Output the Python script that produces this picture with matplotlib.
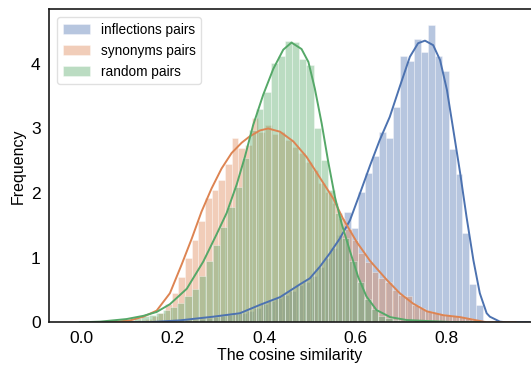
import numpy as np
import matplotlib
matplotlib.use("Agg")
import matplotlib.pyplot as plt

labels = ["inflections pairs", "synonyms pairs", "random pairs"]
colors = ["#4C72B0", "#DD8452", "#55A868"]

# histogram bins (start of first bin, bin width) and bar heights
infl_start, infl_width = 0.1197, 0.0152
infl_hist = [0.003, 0.0, 0.005, 0.01, 0.01, 0.02, 0.02, 0.03, 0.04, 0.05,
             0.06, 0.08, 0.09, 0.11, 0.13, 0.15, 0.18, 0.22, 0.28, 0.33,
             0.37, 0.42, 0.48, 0.58, 0.62, 0.72, 0.85, 1.00, 1.15, 1.35,
             1.70, 1.46, 2.02, 2.31, 2.57, 2.95, 2.85, 3.34, 4.12, 4.05,
             4.38, 4.19, 4.60, 4.12, 3.89, 2.69, 2.30, 1.38, 0.60, 0.27]

syn_start, syn_width = 0.0809, 0.0146
syn_hist = [0.01, 0.01, 0.02, 0.03, 0.05, 0.09, 0.15, 0.28, 0.45, 0.70,
            1.00, 1.28, 1.57, 1.92, 2.05, 2.20, 2.45, 2.85, 2.70, 2.75,
            3.16, 2.95, 3.05, 2.92, 2.95, 2.82, 2.72, 2.62, 2.48, 2.35,
            2.15, 2.02, 1.85, 1.62, 1.45, 1.27, 1.07, 0.94, 0.78, 0.68,
            0.62, 0.50, 0.42, 0.40, 0.27, 0.22, 0.18, 0.14, 0.13, 0.11,
            0.09, 0.08, 0.06, 0.04, 0.02]

rand_start, rand_width = 0.0530, 0.0157
rand_hist = [0.01, 0.02, 0.03, 0.04, 0.06, 0.09, 0.12, 0.15, 0.19, 0.24,
             0.30, 0.40, 0.52, 0.72, 0.95, 1.20, 1.48, 1.79, 2.10, 2.54,
             2.98, 3.30, 3.57, 4.02, 4.12, 4.35, 4.34, 4.07, 3.98, 3.00,
             2.51, 2.05, 1.69, 1.30, 0.95, 0.62, 0.36, 0.20, 0.10, 0.06,
             0.04, 0.02, 0.015, 0.01]

# density curves
infl_kde_x = [0.0, 0.143, 0.216, 0.289, 0.347, 0.391, 0.435, 0.479, 0.500,
              0.522, 0.544, 0.566, 0.588, 0.610, 0.632, 0.653, 0.675, 0.697,
              0.719, 0.737, 0.752, 0.770, 0.785, 0.800, 0.814, 0.829, 0.843,
              0.858, 0.872, 0.887, 0.894, 0.916, 0.93, 0.98]
infl_kde_y = [0.0, 0.0, 0.03, 0.087, 0.14, 0.27, 0.39, 0.59, 0.68,
              0.86, 1.07, 1.30, 1.58, 2.0, 2.43, 2.82, 3.18, 3.65,
              4.11, 4.32, 4.36, 4.29, 4.06, 3.60, 2.98, 2.31, 1.63,
              0.96, 0.45, 0.14, 0.087, 0.01, 0.0, 0.0]

syn_kde_x = [0.0, 0.063, 0.107, 0.136, 0.165, 0.194, 0.220, 0.242, 0.263,
             0.285, 0.307, 0.329, 0.351, 0.369, 0.391, 0.409, 0.435, 0.464,
             0.493, 0.522, 0.551, 0.573, 0.603, 0.632, 0.668, 0.697, 0.726,
             0.756, 0.792, 0.829, 0.858, 0.887, 0.95]
syn_kde_y = [0.0, 0.0, 0.03, 0.087, 0.18, 0.45, 0.90, 1.30, 1.71,
             2.07, 2.38, 2.62, 2.78, 2.88, 2.97, 3.0, 2.95, 2.80,
             2.56, 2.24, 1.92, 1.60, 1.24, 0.95, 0.66, 0.45, 0.29,
             0.17, 0.11, 0.08, 0.04, 0.0, 0.0]

rand_kde_x = [-0.003, 0.041, 0.099, 0.136, 0.165, 0.194, 0.231, 0.267, 0.296,
              0.318, 0.340, 0.358, 0.376, 0.398, 0.420, 0.442, 0.460, 0.482,
              0.497, 0.511, 0.526, 0.540, 0.555, 0.570, 0.588, 0.606, 0.624,
              0.646, 0.676, 0.712, 0.756, 0.807, 0.872]
rand_kde_y = [0.0, 0.01, 0.05, 0.10, 0.16, 0.28, 0.52, 0.94, 1.36,
              1.69, 2.13, 2.56, 3.05, 3.52, 3.92, 4.22, 4.33, 4.23,
              4.03, 3.62, 3.08, 2.50, 1.94, 1.52, 1.10, 0.70, 0.40,
              0.19, 0.08, 0.035, 0.02, 0.005, 0.0]

plt.rcParams['font.family'] = ['Liberation Sans', 'DejaVu Sans']

fig = plt.figure(figsize=(5.31, 3.65), dpi=100)
ax = fig.add_axes([0.0923, 0.117, 0.9077, 0.8575])

series = [
    (infl_start, infl_width, infl_hist, infl_kde_x, infl_kde_y),
    (syn_start, syn_width, syn_hist, syn_kde_x, syn_kde_y),
    (rand_start, rand_width, rand_hist, rand_kde_x, rand_kde_y),
]
handles = []
for (start, width, hist, kx, ky), lab, col in zip(series, labels, colors):
    lefts = start + width * np.arange(len(hist))
    bars = ax.bar(lefts, hist, width=width, align='edge', color=col,
                  alpha=0.4, edgecolor='white', linewidth=0.6, label=lab)
    handles.append(bars)
    ax.plot(kx, ky, color=col, lw=1.4, solid_joinstyle='round')

ax.set_xlim(-0.0705, 0.984)
ax.set_ylim(0, 4.845)
ax.set_xticks([0.0, 0.2, 0.4, 0.6, 0.8])
ax.set_yticks([0, 1, 2, 3, 4])
ax.tick_params(length=0, labelsize=12.5, pad=6)
for s in ax.spines.values():
    s.set_color('0.1')
    s.set_linewidth(1.2)
ax.spines['right'].set_visible(False)

ax.set_xlabel('The cosine similarity', fontsize=11.5, labelpad=2)
ax.set_ylabel('Frequency', fontsize=11.5, labelpad=4)

leg = ax.legend(handles=handles, labels=labels, loc='upper left', fontsize=9.8,
                frameon=True, borderaxespad=0.6)
leg.get_frame().set_edgecolor('0.85')

fig.savefig('out.png', dpi=100)
